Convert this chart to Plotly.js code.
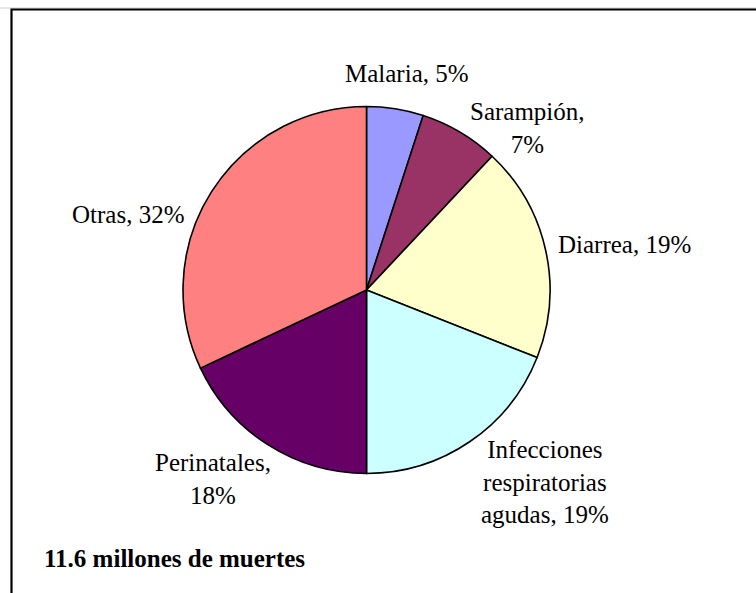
<!DOCTYPE html>
<html>
<head>
<meta charset="utf-8">
<script src="https://cdn.plot.ly/plotly-3.0.1.min.js"></script>
<style>
  html, body { margin: 0; padding: 0; background: #fff; }
  #chart { width: 756px; height: 593px; }
</style>
</head>
<body>
<div id="chart"></div>
<script>
const causes = ["Malaria", "Sarampión", "Diarrea", "Infecciones respiratorias agudas", "Perinatales", "Otras"];
const shares = [5, 7, 19, 19, 18, 32];
const sliceColors = ["#9999FF", "#993366", "#FFFFCC", "#CCFFFF", "#660066", "#FF8080"];
// how each label is wrapped in the picture
const labelText = [
  "Malaria, 5%",
  "Sarampión,<br>7%",
  "Diarrea, 19%",
  "Infecciones<br>respiratorias<br>agudas, 19%",
  "Perinatales,<br>18%",
  "Otras, 32%"
];
const labelPos = [[407, 73], [527, 128], [624, 244], [545, 482], [213, 479], [128, 214]];
const footnote = "11.6 millones de muertes";

const W = 756, H = 593;
const cx = 366.5, cy = 290, r = 183.5;
const serif = "'Liberation Serif', 'Times New Roman', serif";

var data = [{
  type: "pie",
  labels: causes,
  values: shares,
  sort: false,
  direction: "clockwise",
  rotation: 0,
  textinfo: "none",
  hoverinfo: "label+percent",
  marker: { colors: sliceColors, line: { color: "#000", width: 1.6 } },
  domain: {
    x: [(cx - r) / W, (cx + r) / W],
    y: [(H - cy - r) / H, (H - cy + r) / H]
  },
  showlegend: false
}];

var annotations = labelText.map((t, i) => ({
  text: t,
  x: labelPos[i][0] / W,
  y: 1 - labelPos[i][1] / H,
  xref: "paper", yref: "paper",
  xanchor: "center", yanchor: "middle",
  showarrow: false,
  font: { family: serif, size: 25, color: "#000" }
}));
annotations.push({
  text: "<b>" + footnote + "</b>",
  x: 42 / W, y: 1 - 558 / H,
  xref: "paper", yref: "paper",
  xanchor: "left", yanchor: "middle",
  showarrow: false,
  font: { family: serif, size: 25, color: "#000" }
});

var layout = {
  width: W, height: H,
  margin: { l: 0, r: 0, t: 0, b: 0 },
  paper_bgcolor: "#fff",
  font: { family: serif },
  annotations: annotations,
  shapes: [
    { type: "line", xref: "paper", yref: "paper", x0: 0, x1: 1, y0: 1 - 8 / H, y1: 1 - 8 / H,
      line: { color: "#ccc", width: 1 } },
    { type: "path", xref: "paper", yref: "paper",
      path: `M ${11.5 / W} 0 L ${11.5 / W} ${1 - 9.5 / H} L 1 ${1 - 9.5 / H}`,
      line: { color: "#000", width: 2.2 } }
  ]
};

Plotly.newPlot("chart", data, layout, { staticPlot: true });
</script>
</body>
</html>
